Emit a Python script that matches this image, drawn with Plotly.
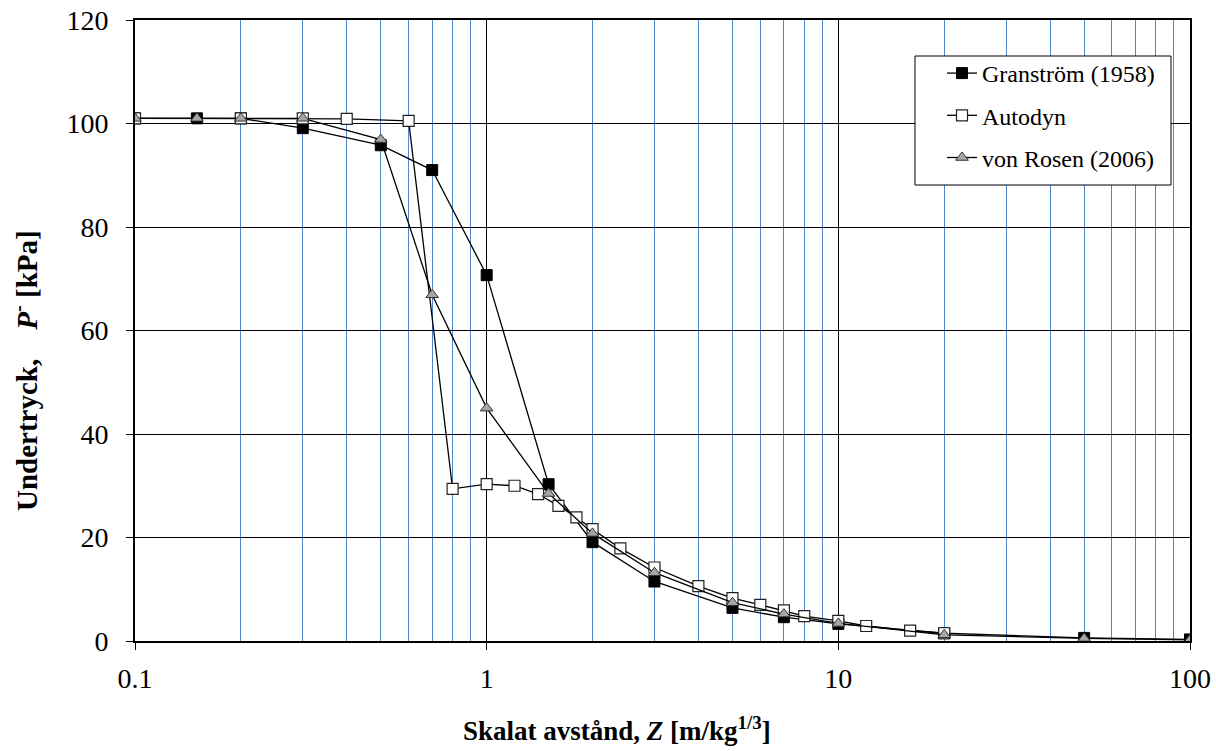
import plotly.graph_objects as go

# Scaled distance Z [m/kg^(1/3)] and negative-phase overpressure P- [kPa]
granstrom_z = [0.1, 0.15, 0.2, 0.3, 0.5, 0.7, 1, 1.5, 2, 3, 5, 7, 10, 20, 50, 100]
granstrom_p = [101, 101, 101, 99.1, 95.8, 91.0, 70.7, 30.3, 19.1, 11.5, 6.4, 4.6, 3.3, 1.5, 0.6, 0.3]

autodyn_z = [0.1, 0.2, 0.3, 0.4, 0.6, 0.8, 1, 1.2, 1.4, 1.6, 1.8, 2, 2.4, 3, 4, 5, 6, 7, 8, 10, 12, 16, 20]
autodyn_p = [101, 101, 101, 100.9, 100.5, 29.4, 30.3, 30.0, 28.4, 26.1, 23.9, 21.6, 17.9, 14.2, 10.6, 8.3, 7.0, 5.9, 4.8, 3.9, 2.9, 2.0, 1.5]

vonrosen_z = [0.1, 0.15, 0.2, 0.3, 0.5, 0.7, 1, 1.5, 2, 3, 5, 7, 10, 20, 50, 100]
vonrosen_p = [101, 101, 101, 101, 96.9, 66.9, 45.0, 28.5, 20.8, 13.2, 7.4, 5.2, 3.4, 1.2, 0.5, 0.2]

x_major = [0.1, 1, 10, 100]
x_major_text = ["0.1", "1", "10", "100"]
x_minor = [0.2, 0.3, 0.4, 0.5, 0.6, 0.7, 0.8, 0.9,
           2, 3, 4, 5, 6, 7, 8, 9,
           20, 30, 40, 50, 60, 70, 80, 90]
y_ticks = [0, 20, 40, 60, 80, 100, 120]

FONT = "Liberation Serif, Times New Roman, serif"
LINE = dict(color="black", width=1.3)
SP = "&nbsp;"

# plot area in pixels (for placing legend frame and titles in paper coords)
L, R, T, B = 135, 1190, 20, 641
W, H = R - L, B - T


def px(x):
    return (x - L) / W


def py(y):
    return (B - y) / H


fig = go.Figure()
fig.add_trace(go.Scatter(
    x=granstrom_z, y=granstrom_p, mode="lines+markers", name="Granström (1958)",
    line=LINE, legendgroup="g1",
    marker=dict(symbol="square", size=11, color="black", line=dict(color="black", width=1)),
))
fig.add_trace(go.Scatter(
    x=autodyn_z, y=autodyn_p, mode="lines+markers", name="Autodyn",
    line=LINE, legendgroup="g2",
    marker=dict(symbol="square", size=11, color="white", line=dict(color="#222222", width=1.2)),
))
fig.add_trace(go.Scatter(
    x=vonrosen_z, y=vonrosen_p, mode="lines+markers", name="von Rosen (2006)",
    line=LINE, legendgroup="g3",
    marker=dict(symbol="triangle-up", size=11, color="#a6a6a6", line=dict(color="#333333", width=1)),
))

fig.update_layout(
    width=1216, height=751,
    margin=dict(l=L, r=1216 - R, t=T, b=751 - B),
    paper_bgcolor="white", plot_bgcolor="white",
    font=dict(family=FONT, size=28, color="black"),
    showlegend=True,
    legend=dict(
        x=px(942), y=py(51), xanchor="left", yanchor="top",
        bgcolor="rgba(0,0,0,0)", borderwidth=0,
        font=dict(family=FONT, size=24, color="black"),
        tracegroupgap=8, itemwidth=30,
    ),
    xaxis=dict(
        type="log", range=[-1, 2], automargin=False,
        tickvals=x_major, ticktext=x_major_text,
        tickfont=dict(family=FONT, size=28, color="black"),
        ticks="outside", ticklen=7, tickcolor="black",
        ticklabelstandoff=4,
        showgrid=True, gridcolor="black", gridwidth=1,
        minor=dict(tickvals=x_minor, showgrid=True, gridcolor="#4f86cc", gridwidth=1.1, ticks=""),
        showline=True, linecolor="black", linewidth=1.8, mirror=True,
        zeroline=False,
    ),
    yaxis=dict(
        range=[0, 120], tickvals=y_ticks, automargin=False,
        tickfont=dict(family=FONT, size=28, color="black"),
        ticks="outside", ticklen=7, tickcolor="black",
        ticklabelstandoff=12,
        showgrid=True, gridcolor="black", gridwidth=1,
        showline=True, linecolor="black", linewidth=1.8, mirror=True,
        zeroline=False,
    ),
    shapes=[
        # legend frame
        dict(type="rect", xref="paper", yref="paper",
             x0=px(915), x1=px(1171), y0=py(185), y1=py(56),
             fillcolor="white", line=dict(color="black", width=1), layer="above"),
    ],
    annotations=[
        dict(text="<b>Skalat avstånd, <i>Z</i> [m/kg<sup>1/3</sup>]</b>",
             xref="paper", yref="paper", x=px(617), y=py(729),
             xanchor="center", yanchor="middle", showarrow=False,
             font=dict(family=FONT, size=27, color="black")),
        dict(text="<b>Undertryck," + SP * 4 + "<i>P</i><sup>-</sup>" + SP + "[kPa]</b>",
             xref="paper", yref="paper", x=px(25), y=py(371),
             xanchor="center", yanchor="middle", textangle=-90, showarrow=False,
             font=dict(family=FONT, size=29, color="black")),
    ],
)

fig.write_html("out.html")
